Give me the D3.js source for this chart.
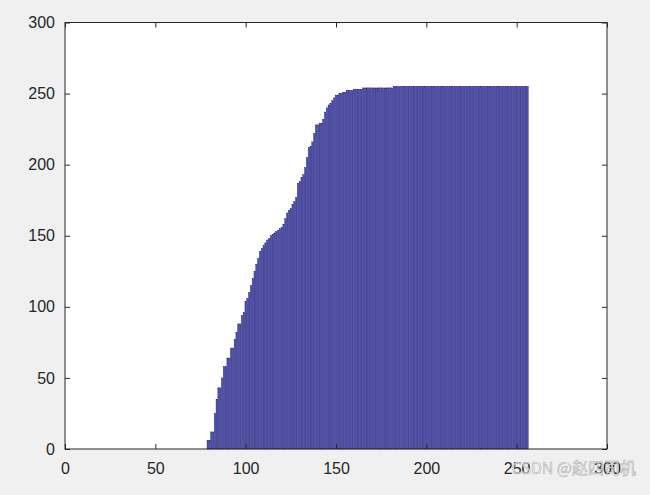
<!DOCTYPE html>
<html>
<head>
<meta charset="utf-8">
<script src="https://cdn.jsdelivr.net/npm/d3@7"></script>
<style>
  html, body { margin: 0; padding: 0; background: #f0f0f0; }
  svg { display: block; }
</style>
</head>
<body>
<div id="chart"></div>
<script>
// ---- data ----
const levels = d3.range(1, 257); // grey levels (bar positions)
const mapped = [
  0,0,0,0,0,0,0,0,0,0, 0,0,0,0,0,0,0,0,0,0,
  0,0,0,0,0,0,0,0,0,0, 0,0,0,0,0,0,0,0,0,0,
  0,0,0,0,0,0,0,0,0,0, 0,0,0,0,0,0,0,0,0,0,
  0,0,0,0,0,0,0,0,0,0, 0,0,0,0,0,0,0,0,
  6,6,12,12,25,35,43,43,50,58,58,64,64,71,71,77,82,88,88,94,96,
  104,106,110,115,120,125,130,134,139,141,143,145,147,148,150,151,152,153,154,155,
  156,158,162,166,168,169,172,174,177,187,188,191,193,198,205,212,213,216,222,228,
  228,229,229,232,237,240,242,243,245,247,249,249,250,250,251,251,252,252,252,252,
  253,253,253,253,253,
  254,254,254,254,254,254,254,254,254,254,254,254,254,254,254,254,254,
  255,255,255,255,255,255,255,255,255,255,255,255,255,255,255,255,255,255,255,255,
  255,255,255,255,255,255,255,255,255,255,255,255,255,255,255,255,255,255,255,255,
  255,255,255,255,255,255,255,255,255,255,255,255,255,255,255,255,255,255,255,255,
  255,255,255,255,255,255,255,255,255,255,255,255,255,255,255
];
const xTicks = [0, 50, 100, 150, 200, 250, 300];
const yTicks = [0, 50, 100, 150, 200, 250, 300];
const watermark = "CSDN @赵四司机";

// ---- layout ----
const W = 650, H = 495;
const L = 65, R = 607, T = 22.5, B = 449;

const svg = d3.select("#chart").append("svg")
  .attr("width", W).attr("height", H)
  .style("background", "#f0f0f0");

const x = d3.scaleLinear().domain([0, 300]).range([L, R]);
const y = d3.scaleLinear().domain([0, 300]).range([B, T]);

svg.append("rect").attr("x", L).attr("y", T)
  .attr("width", R - L).attr("height", B - T).attr("fill", "#ffffff");

const bw = (x(1) - x(0)) * 0.8;
svg.append("g").selectAll("rect").data(levels).join("rect")
  .attr("x", d => x(d) - bw / 2)
  .attr("y", (d, i) => y(mapped[i]))
  .attr("width", bw)
  .attr("height", (d, i) => y(0) - y(mapped[i]))
  .attr("fill", "#5252aa")
  .attr("stroke", "#1e1e7c")
  .attr("stroke-width", 0.4);

const font = "'Liberation Sans', Arial, Helvetica, sans-serif";
const axCol = "#262626";

function styleAxis(g) {
  g.select(".domain").remove();
  g.selectAll(".tick line").attr("stroke", axCol).attr("stroke-width", 1);
  g.selectAll(".tick text").attr("fill", axCol)
    .style("font-family", font).style("font-size", "16px");
}

svg.append("g").attr("transform", `translate(0,${B})`)
  .call(d3.axisBottom(x).tickValues(xTicks).tickSize(-5).tickPadding(14).tickFormat(d3.format("d")))
  .call(styleAxis);
svg.append("g").attr("transform", `translate(0,${T})`)
  .call(d3.axisTop(x).tickValues(xTicks).tickSize(-5).tickFormat(""))
  .call(styleAxis);
svg.append("g").attr("transform", `translate(${L},0)`)
  .call(d3.axisLeft(y).tickValues(yTicks).tickSize(-5).tickPadding(10).tickFormat(d3.format("d")))
  .call(styleAxis);
svg.append("g").attr("transform", `translate(${R},0)`)
  .call(d3.axisRight(y).tickValues(yTicks).tickSize(-5).tickFormat(""))
  .call(styleAxis);

// box
svg.append("rect").attr("x", L).attr("y", T)
  .attr("width", R - L).attr("height", B - T)
  .attr("fill", "none").attr("stroke", axCol).attr("stroke-width", 1);

// watermark
svg.append("text").attr("x", 636).attr("y", 474)
  .attr("text-anchor", "end")
  .style("font-family", "'Noto Sans CJK SC', 'Noto Sans', sans-serif")
  .style("font-size", "16px")
  .attr("fill", "#ffffff").attr("fill-opacity", 0.85)
  .attr("stroke", "#8a8a8a").attr("stroke-width", 0.6).attr("stroke-opacity", 0.7)
  .text(watermark);
</script>
</body>
</html>
